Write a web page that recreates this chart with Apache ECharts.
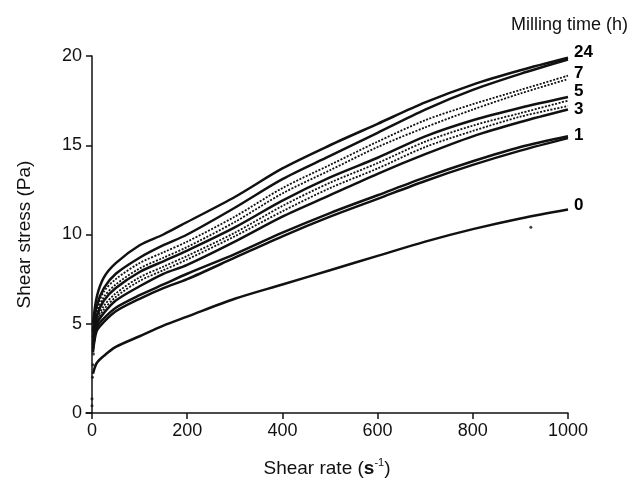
<!DOCTYPE html>
<html>
<head>
<meta charset="utf-8">
<script src="https://cdn.jsdelivr.net/npm/echarts@6/dist/echarts.min.js"></script>
<style>
  html, body { margin: 0; padding: 0; background: #fff; }
  #main { width: 633px; height: 489px; }
</style>
</head>
<body>
<div id="main"></div>
<script>
  // shear rate (s-1) where the curves were read
  var shearRate = [2, 10, 25, 50, 100, 150, 200, 300, 400, 500, 600, 700, 800, 900, 1000];
  var xTicks = [0, 200, 400, 600, 800, 1000];

  // shear stress (Pa), two branches for each milling time
  var h24a = [5.0, 6.5, 7.6, 8.4, 9.4, 10.0, 10.7, 12.1, 13.7, 15.0, 16.2, 17.4, 18.4, 19.2, 19.9];
  var h24b = [4.6, 6.0, 7.0, 7.8, 8.7, 9.4, 10.0, 11.5, 13.1, 14.4, 15.7, 17.0, 18.1, 19.0, 19.8];
  var h7a = [4.5, 5.8, 6.8, 7.5, 8.4, 9.0, 9.6, 11.0, 12.6, 13.9, 15.2, 16.4, 17.3, 18.1, 18.9];
  var h7b = [4.3, 5.6, 6.5, 7.2, 8.1, 8.7, 9.3, 10.7, 12.3, 13.6, 14.9, 16.0, 17.0, 17.9, 18.7];
  var h5a = [4.2, 5.4, 6.3, 7.0, 7.9, 8.5, 9.1, 10.4, 11.9, 13.2, 14.3, 15.5, 16.4, 17.1, 17.7];
  var h5b = [4.0, 5.2, 6.0, 6.7, 7.6, 8.2, 8.8, 10.1, 11.6, 12.9, 14.0, 15.2, 16.1, 16.8, 17.5];
  var h3a = [3.9, 5.1, 5.8, 6.5, 7.4, 8.0, 8.6, 9.9, 11.3, 12.6, 13.7, 14.9, 15.8, 16.6, 17.2];
  var h3b = [3.8, 5.0, 5.6, 6.3, 7.1, 7.8, 8.3, 9.6, 11.0, 12.2, 13.4, 14.5, 15.5, 16.3, 17.0];
  var h1a = [3.6, 4.8, 5.3, 5.9, 6.6, 7.2, 7.8, 8.9, 10.1, 11.2, 12.2, 13.2, 14.1, 14.9, 15.5];
  var h1b = [3.4, 4.6, 5.1, 5.7, 6.4, 7.0, 7.5, 8.7, 9.9, 11.0, 12.0, 13.0, 13.9, 14.7, 15.4];
  var h0 = [2.2, 2.8, 3.2, 3.7, 4.3, 4.9, 5.4, 6.4, 7.2, 8.0, 8.8, 9.6, 10.3, 10.9, 11.4];

  // loose dots near the origin and one below the 0 h curve
  var strayPoints = [[0, 0.8], [0, 0.4], [1, 2.0], [2, 2.7], [3, 3.3], [5, 4.1], [922, 10.4]];

  var myChart = echarts.init(document.getElementById('main'));
  var FONT = 'Liberation Sans, Arial, sans-serif';

  function pairs(ys) {
    return shearRate.map(function (x, i) { return [x, ys[i]]; });
  }

  function curve(name, ys, labelText, dy, dashed) {
    var s = {
      name: name,
      type: 'line',
      smooth: 0.3,
      showSymbol: false,
      silent: true,
      lineStyle: { color: '#111', width: dashed ? 1.8 : 2.5, type: dashed ? [2, 1.5] : 'solid' },
      data: pairs(ys)
    };
    if (labelText) {
      s.endLabel = {
        show: true,
        formatter: labelText,
        distance: 6,
        offset: [0, dy],
        color: '#000',
        fontFamily: FONT,
        fontWeight: 'bold',
        fontSize: 17
      };
    }
    return s;
  }

  var option = {
    animation: false,
    title: {
      text: 'Milling time (h)',
      right: 0,
      top: 11,
      textStyle: { fontFamily: FONT, fontWeight: 'normal', fontSize: 18, color: '#111' }
    },
    grid: { left: 86, right: 65, top: 56, bottom: 76 },
    xAxis: {
      type: 'value',
      min: -12.6,
      max: 1000,
      name: 'Shear rate ({s|s}{sup|-1})',
      nameLocation: 'middle',
      nameGap: 44,
      nameTextStyle: {
        fontFamily: FONT,
        fontSize: 19,
        color: '#111',
        rich: {
          s: { fontFamily: FONT, fontSize: 19, fontWeight: 'bold', color: '#111' },
          sup: { fontFamily: FONT, fontSize: 11, color: '#111', verticalAlign: 'top', padding: [0, 0, 12, 0] }
        }
      },
      splitLine: { show: false },
      axisLine: { lineStyle: { color: '#111', width: 1.5 } },
      axisTick: { customValues: xTicks, length: 6, lineStyle: { color: '#111', width: 1.5 } },
      axisLabel: {
        customValues: xTicks,
        margin: 9,
        formatter: function (v) { return String(v); },
        fontFamily: FONT,
        fontSize: 18,
        color: '#111'
      }
    },
    yAxis: {
      type: 'value',
      min: 0,
      max: 20,
      interval: 5,
      name: 'Shear stress (Pa)',
      nameLocation: 'middle',
      nameGap: 52,
      nameTextStyle: { fontFamily: FONT, fontSize: 19, color: '#111' },
      splitLine: { show: false },
      axisLine: { show: true, lineStyle: { color: '#111', width: 1.5 } },
      axisTick: { show: true, length: 6, lineStyle: { color: '#111', width: 1.5 } },
      axisLabel: { margin: 4, fontFamily: FONT, fontSize: 18, color: '#111' }
    },
    series: [
      curve('24a', h24a, '24', -5, false),
      curve('24b', h24b, null, 0, false),
      curve('7a', h7a, '7', -2, true),
      curve('7b', h7b, null, 0, true),
      curve('5a', h5a, '5', -6, false),
      curve('5b', h5b, null, 0, true),
      curve('3a', h3a, '3', 3, true),
      curve('3b', h3b, null, 0, false),
      curve('1a', h1a, '1', -1, false),
      curve('1b', h1b, null, 0, false),
      curve('0', h0, '0', -4, false),
      {
        name: 'stray',
        type: 'scatter',
        symbolSize: 3,
        silent: true,
        itemStyle: { color: '#111' },
        data: strayPoints
      }
    ]
  };
  myChart.setOption(option);
</script>
</body>
</html>
